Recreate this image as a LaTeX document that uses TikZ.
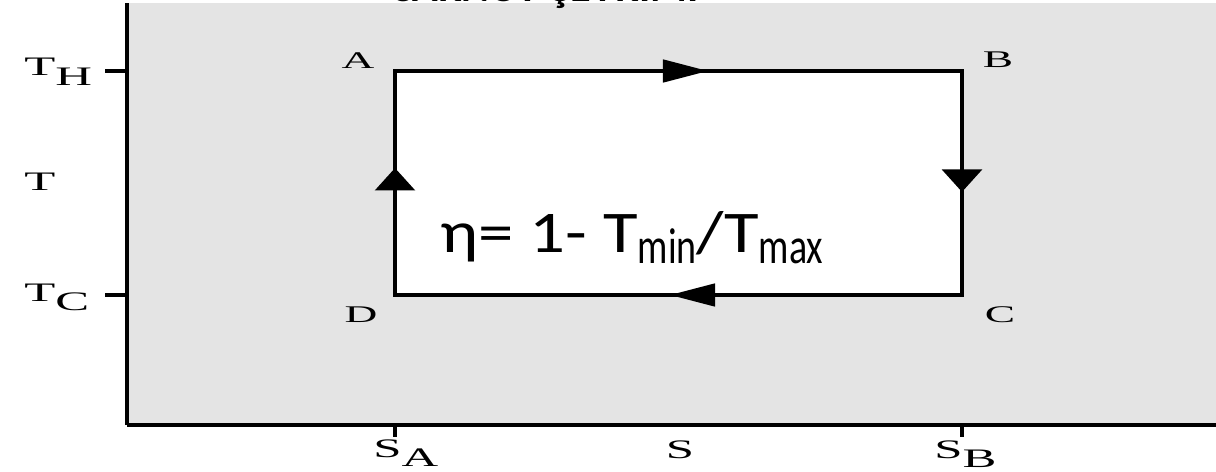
\documentclass[tikz,border=0pt]{standalone}
\usepackage{fontspec}
\usetikzlibrary{arrows.meta, decorations.markings}
\setmainfont{Liberation Serif}
\newfontfamily\lblfont[FakeStretch=1.9]{Liberation Serif}
\newfontfamily\calfont[FakeStretch=1.2]{Carlito}
\newfontfamily\calsub[FakeStretch=0.75]{Carlito}
\newfontfamily\caltitle{Carlito}
\definecolor{cvGray}{RGB}{228,228,228}
\definecolor{cvInk}{RGB}{0,0,0}
\newcommand{\lsub}[1]{\raisebox{-7pt}{#1}}
\newcommand{\fsub}[1]{\raisebox{-8pt}{\calsub\fontsize{36}{36}\selectfont #1}}

\begin{document}
\begin{tikzpicture}[x=0.025cm, y=-0.025cm,
  lbl/.style={font=\lblfont\fontsize{19}{21}\selectfont, inner sep=0pt},
  crn/.style={font=\lblfont\fontsize{17}{19}\selectfont, inner sep=0pt},
  hax/.style={line width=2.2pt, draw=cvInk},
  vax/.style={line width=3pt, draw=cvInk},
  hside/.style={line width=2.2pt, draw=cvInk, line cap=rect},
  vside/.style={line width=3.4pt, draw=cvInk, line cap=rect},
  harr/.style={postaction={decorate}, decoration={markings,
      mark=at position #1 with {\arrow{Triangle[length=32pt,width=16pt]}}}},
  varr/.style={postaction={decorate}, decoration={markings,
      mark=at position #1 with {\arrow{Triangle[length=16pt,width=28pt]}}}}]

\useasboundingbox (0,0) rectangle (1216,472);
\fill[cvGray] (127,3) rectangle (1216,425);

\coordinate (O) at (127,425);
\coordinate (Ytop) at (127,3);
\coordinate (Xend) at (1216,425);
\coordinate (A) at (395,71);
\coordinate (B) at (962,71);
\coordinate (C) at (962,295);
\coordinate (D) at (395,295);

\fill[white] (A) rectangle (C);

\draw[vax] (O) -- (Ytop);
\draw[hax] (O) -- (Xend);
\draw[hax] (A -| O) -- ++(-22,0);
\draw[hax] (D -| O) -- ++(-22,0);
\draw[vax] (D |- O) -- ++(0,12);
\draw[vax] (C |- O) -- ++(0,12);

\draw[hside, harr=0.552] (A) -- (B);
\draw[vside, varr=0.54] (B) -- (C);
\draw[hside, harr=0.515] (C) -- (D);
\draw[vside, varr=0.567] (D) -- (A);

\node[lbl, anchor=base west] (lTH) at (24,76) {T\lsub{H}};
\node[lbl, anchor=base west] (lT) at (24,190) {T};
\node[lbl, anchor=base west] (lTC) at (24,301) {T\lsub{C}};
\node[lbl, anchor=base west] (lSA) at (373,457) {S\lsub{A}};
\node[lbl, anchor=base] (lS) at (680,458) {S};
\node[lbl, anchor=base west] (lSB) at (934,458) {S\lsub{B}};

\node[crn] (lA) at (358,61) {A};
\node[crn] (lB) at (998,60) {B};
\node[crn] (lC) at (1000,315) {C};
\node[crn] (lD) at (361,315) {D};

\node[inner sep=0pt, anchor=base west, font=\calfont\fontsize{42}{44}\selectfont]
  (eta) at (440,252) {η= 1- T\fsub{min}/T\fsub{max}};

\node[inner sep=0pt, anchor=base west, font=\caltitle\bfseries\fontsize{30}{32}\selectfont]
  (title) at (390,2) {CARNOT ÇEVRİMİ};
\end{tikzpicture}
\end{document}
